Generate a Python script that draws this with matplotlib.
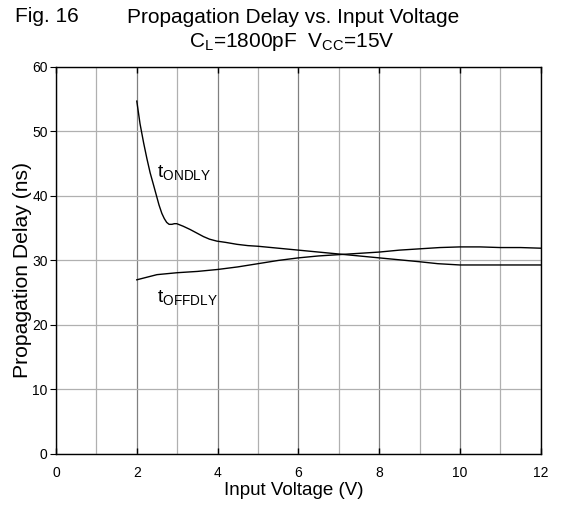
import matplotlib
matplotlib.use("Agg")
import matplotlib.pyplot as plt

plt.rcParams['font.family'] = ['Liberation Sans', 'DejaVu Sans']

# t_ONDLY curve (Input Voltage V, delay ns)
on_v = [2.0, 2.08, 2.17, 2.25, 2.33, 2.41, 2.48, 2.55, 2.62, 2.68, 2.74, 2.8, 2.87, 2.93, 2.99,
        3.15, 3.32, 3.5, 3.65, 3.8, 3.98, 4.2, 4.48, 4.75, 5.0, 5.5, 6.0, 6.5, 7.0, 7.5, 8.0,
        8.5, 9.0, 9.45, 10.0, 10.5, 11.0, 11.5, 12.0]
on_ns = [54.7, 51.2, 48.2, 45.8, 43.6, 41.8, 40.2, 38.6, 37.3, 36.5, 35.9, 35.6, 35.6, 35.7, 35.7,
         35.3, 34.8, 34.2, 33.7, 33.3, 33.0, 32.8, 32.5, 32.3, 32.2, 31.9, 31.6, 31.3, 31.0, 30.7, 30.4,
         30.1, 29.8, 29.5, 29.3, 29.3, 29.3, 29.3, 29.3]

# t_OFFDLY curve
off_v = [2.0, 2.25, 2.5, 3.0, 3.5, 4.0, 4.5, 5.0, 5.5, 6.0, 6.5, 7.0, 7.5, 8.0, 8.5, 9.0, 9.5,
         10.0, 10.5, 11.0, 11.5, 12.0]
off_ns = [27.0, 27.4, 27.8, 28.1, 28.3, 28.6, 29.0, 29.5, 30.0, 30.4, 30.7, 30.9, 31.1, 31.3, 31.6,
          31.8, 32.0, 32.1, 32.1, 32.0, 32.0, 31.9]

x_ticks = [0, 2, 4, 6, 8, 10, 12]
y_ticks = [0, 10, 20, 30, 40, 50, 60]

fig = plt.figure(figsize=(5.65, 5.12), dpi=100)
ax = fig.add_axes([0.0991, 0.1133, 0.858, 0.756])

ax.set_xlim(0, 12)
ax.set_ylim(0, 60)
ax.set_xticks(x_ticks)
ax.set_xticks(range(1, 12, 2), minor=True)
ax.set_yticks(y_ticks)

ax.grid(True, which='major', axis='x', color='#808080', linewidth=0.9)
ax.grid(True, which='minor', axis='x', color='#b0b0b0', linewidth=0.9)
ax.grid(True, which='major', axis='y', color='#b0b0b0', linewidth=0.9)
ax.set_axisbelow(True)

ax.tick_params(axis='x', which='major', direction='in', length=4, top=True, width=1,
               labelsize=10, pad=9)
ax.tick_params(axis='x', which='minor', length=0)
ax.tick_params(axis='y', which='major', direction='out', length=4, width=0.8,
               labelsize=10, pad=2)
for s in ax.spines.values():
    s.set_linewidth(1.0)
    s.set_color('black')

ax.plot(on_v, on_ns, color='black', linewidth=1.0)
ax.plot(off_v, off_ns, color='black', linewidth=1.0)

ax.text(2.5, 42.8, r't$_{\mathregular{ONDLY}}$', fontsize=14)
ax.text(2.5, 23.4, r't$_{\mathregular{OFFDLY}}$', fontsize=14)

ax.set_xlabel('Input Voltage (V)', fontsize=13.5)
ax.xaxis.set_label_coords(0.491, -0.073)
ax.set_ylabel('Propagation Delay (ns)', fontsize=15.2)
ax.yaxis.set_label_coords(-0.05, 0.475)

fig.text(0.027, 0.968, 'Fig. 16', fontsize=15, va='center', ha='left')
fig.text(0.518, 0.966, 'Propagation Delay vs. Input Voltage', fontsize=15, va='center', ha='center')
fig.text(0.517, 0.918, r'C$_{\mathregular{L}}$=1800pF  V$_{\mathregular{CC}}$=15V',
         fontsize=15, va='center', ha='center')

fig.savefig('out.png', dpi=100)
